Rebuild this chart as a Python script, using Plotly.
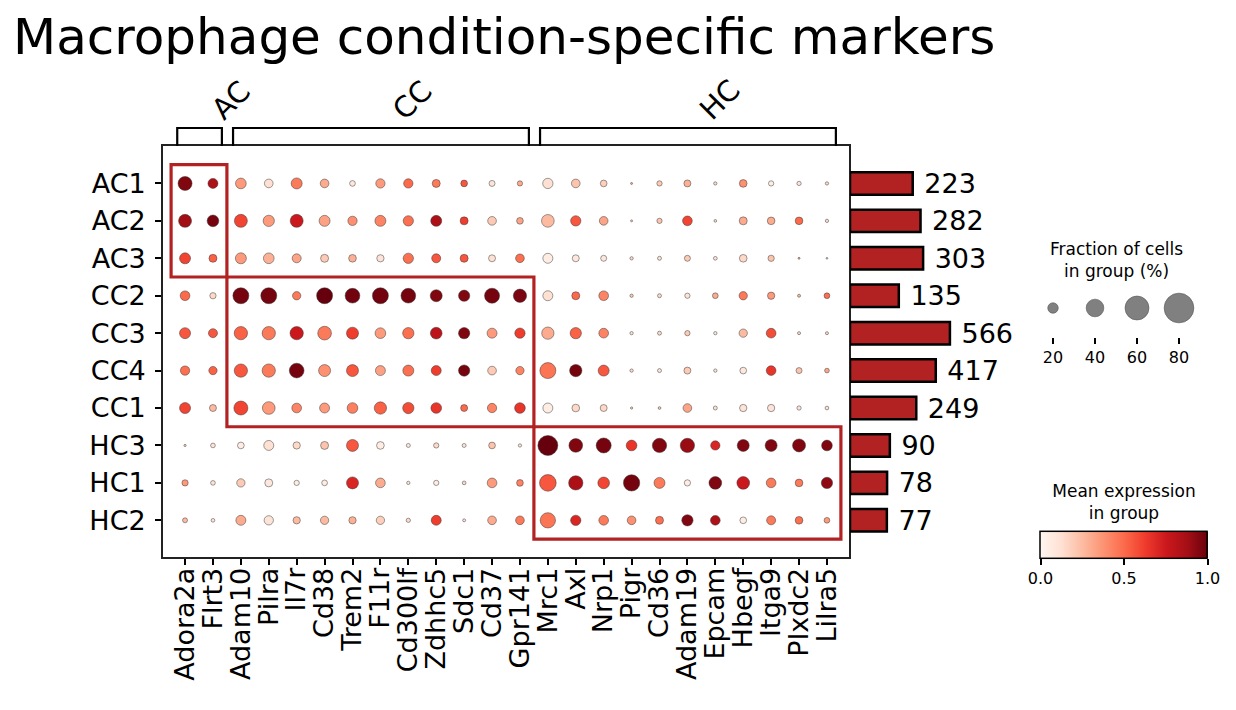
import numpy as np
import plotly.graph_objects as go

# dot plot data
genes = ["Adora2a", "Flrt3", "Adam10", "Pilra", "Il7r", "Cd38", "Trem2", "F11r",
         "Cd300lf", "Zdhhc5", "Sdc1", "Cd37", "Gpr141", "Mrc1", "Axl", "Nrp1",
         "Pigr", "Cd36", "Adam19", "Epcam", "Hbegf", "Itga9", "Plxdc2", "Lilra5"]
groups = ["AC1", "AC2", "AC3", "CC2", "CC3", "CC4", "CC1", "HC3", "HC1", "HC2"]
group_counts = [223, 282, 303, 135, 566, 417, 249, 90, 78, 77]

var_group_labels = ["AC", "CC", "HC"]
var_group_cols = [(0, 1), (2, 12), (13, 23)]
var_group_rows = [(0, 2), (3, 6), (7, 9)]

# mean expression (scaled 0..1)
expr = [
    [0.95, 0.85, 0.35, 0.12, 0.45, 0.30, 0.08, 0.35, 0.50, 0.45, 0.55, 0.10, 0.30,
     0.12, 0.22, 0.18, 0.30, 0.20, 0.28, 0.15, 0.38, 0.05, 0.10, 0.15],
    [0.88, 0.97, 0.60, 0.35, 0.75, 0.33, 0.38, 0.42, 0.48, 0.85, 0.62, 0.20, 0.32,
     0.25, 0.55, 0.32, 0.20, 0.22, 0.60, 0.15, 0.30, 0.30, 0.50, 0.15],
    [0.60, 0.52, 0.35, 0.28, 0.32, 0.20, 0.28, 0.10, 0.48, 0.55, 0.55, 0.12, 0.48,
     0.05, 0.08, 0.08, 0.15, 0.12, 0.20, 0.10, 0.15, 0.22, 0.30, 0.20],
    [0.50, 0.15, 0.97, 0.97, 0.45, 1.00, 0.98, 0.98, 0.97, 0.95, 0.95, 0.97, 0.96,
     0.12, 0.50, 0.42, 0.20, 0.15, 0.10, 0.30, 0.45, 0.35, 0.25, 0.48],
    [0.55, 0.55, 0.52, 0.45, 0.75, 0.45, 0.62, 0.35, 0.48, 0.80, 0.95, 0.35, 0.62,
     0.30, 0.52, 0.42, 0.12, 0.15, 0.20, 0.08, 0.25, 0.58, 0.15, 0.15],
    [0.48, 0.52, 0.55, 0.45, 0.97, 0.38, 0.55, 0.33, 0.48, 0.62, 0.97, 0.20, 0.42,
     0.47, 0.97, 0.55, 0.15, 0.10, 0.20, 0.10, 0.08, 0.65, 0.22, 0.32],
    [0.60, 0.25, 0.60, 0.35, 0.42, 0.35, 0.43, 0.52, 0.58, 0.65, 0.50, 0.42, 0.65,
     0.05, 0.15, 0.15, 0.20, 0.20, 0.32, 0.12, 0.10, 0.10, 0.10, 0.12],
    [0.20, 0.10, 0.05, 0.12, 0.15, 0.22, 0.55, 0.05, 0.08, 0.15, 0.10, 0.22, 0.10,
     1.00, 0.95, 0.97, 0.65, 0.95, 0.90, 0.70, 0.95, 0.95, 0.95, 0.95],
    [0.35, 0.10, 0.20, 0.08, 0.05, 0.05, 0.70, 0.30, 0.10, 0.05, 0.15, 0.35, 0.42,
     0.55, 0.85, 0.60, 0.97, 0.45, 0.05, 0.95, 0.75, 0.45, 0.45, 0.92],
    [0.25, 0.10, 0.30, 0.10, 0.25, 0.25, 0.28, 0.18, 0.15, 0.62, 0.10, 0.30, 0.45,
     0.47, 0.70, 0.45, 0.38, 0.48, 0.95, 0.85, 0.05, 0.45, 0.48, 0.35],
]

# fraction of cells expressing (%)
frac = [
    [29.4, 18.7, 20.5, 15.5, 21.3, 15.5, 8.9, 17.0, 17.0, 13.9, 11.0, 9.5, 8.0,
     19.5, 15.5, 11.0, 2.2, 8.0, 11.6, 4.3, 13.2, 8.0, 6.1, 4.3],
    [26.6, 23.1, 26.6, 22.0, 26.6, 21.3, 17.0, 21.3, 19.5, 21.3, 13.9, 15.5, 11.0,
     25.8, 19.5, 15.5, 2.2, 8.0, 18.0, 3.3, 13.9, 13.2, 13.2, 4.3],
    [21.3, 13.9, 21.3, 20.5, 16.3, 13.9, 13.2, 12.3, 19.5, 16.3, 13.9, 11.6, 15.5,
     18.7, 11.6, 9.5, 4.3, 5.5, 9.5, 5.0, 13.2, 10.1, 2.2, 1.8],
    [18.0, 10.1, 35.1, 35.1, 14.6, 35.1, 31.4, 35.1, 31.4, 23.9, 22.0, 32.3, 27.4,
     18.7, 13.9, 18.0, 4.3, 5.5, 8.0, 8.9, 14.6, 12.3, 3.8, 8.9],
    [21.3, 16.3, 27.4, 27.4, 27.4, 28.5, 23.9, 20.5, 22.0, 23.1, 22.0, 18.7, 19.5,
     24.7, 22.0, 18.0, 4.3, 5.5, 8.0, 4.3, 14.6, 18.0, 3.8, 3.8],
    [17.0, 14.6, 27.4, 27.4, 31.4, 23.9, 23.9, 18.7, 21.3, 18.7, 22.0, 15.5, 14.6,
     35.1, 24.7, 21.3, 4.3, 5.5, 11.6, 4.3, 11.0, 18.0, 9.5, 6.8],
    [21.3, 11.6, 29.4, 25.8, 18.0, 18.7, 20.5, 24.7, 22.0, 20.5, 11.6, 17.0, 20.5,
     18.7, 13.2, 11.6, 2.6, 3.3, 15.5, 5.5, 12.3, 12.3, 6.1, 5.0],
    [2.6, 6.8, 11.0, 18.7, 12.3, 13.9, 23.9, 13.2, 5.5, 8.0, 5.5, 11.0, 4.3,
     47.2, 28.5, 32.3, 20.5, 30.2, 30.2, 17.0, 23.9, 23.9, 26.6, 20.5],
    [10.1, 6.8, 14.6, 13.9, 8.0, 8.9, 23.9, 18.0, 4.3, 8.0, 5.0, 18.0, 11.0,
     37.1, 30.2, 23.1, 36.0, 21.3, 10.1, 25.8, 25.8, 18.0, 13.2, 22.0],
    [7.4, 5.0, 18.7, 17.0, 12.3, 14.6, 12.3, 14.6, 6.1, 18.7, 3.8, 15.5, 15.5,
     33.1, 19.5, 18.0, 15.5, 13.9, 22.0, 18.0, 11.0, 16.3, 13.2, 8.9],
]

size_legend_vals = [20, 40, 60, 80]

# the page puts the figure 8px in from the top-left corner
OFF = 8
W, H = 1236 - 2 * OFF, 710 - 2 * OFF
FONT = "DejaVu Sans"
reds = ["#fff5f0", "#fee0d2", "#fcbba1", "#fc9272", "#fb6a4a",
        "#ef3b2c", "#cb181d", "#a50f15", "#67000d"]
reds_scale = [[i / (len(reds) - 1), c] for i, c in enumerate(reds)]


def dot_size(f):
    return 1.11 * np.power(np.asarray(f, dtype=float), 0.75)


def px_x(px):
    return (px - OFF) / W


def px_y(py):
    return 1 - (py - OFF) / H


expr_a = np.array(expr)
frac_a = np.array(frac)
n_rows, n_cols = expr_a.shape
xx, yy = np.meshgrid(np.arange(n_cols), np.arange(n_rows))

fig = go.Figure()

# main dot plot
fig.add_trace(go.Scatter(
    x=xx.ravel(), y=yy.ravel(), mode="markers",
    marker=dict(
        size=dot_size(frac_a.ravel()), opacity=1,
        color=expr_a.ravel(), colorscale=reds_scale, cmin=0, cmax=1,
        line=dict(width=0.6, color="rgba(50,50,50,0.8)"),
        colorbar=dict(
            orientation="h", x=px_x(1124), xanchor="center",
            y=px_y(599), yanchor="bottom",
            lenmode="pixels", len=187, thickness=27,
            outlinewidth=1.5, outlinecolor="black",
            tickvals=[0, 0.5, 1], ticktext=["0.0", "0.5", "1.0"],
            ticks="outside", ticklen=6, tickwidth=1.5, tickcolor="black",
            tickfont=dict(size=16, color="black", family=FONT),
            title=dict(text="Mean expression<br>in group", side="top",
                       font=dict(size=17, color="black", family=FONT)),
        ),
    ),
    hoverinfo="skip", showlegend=False,
))

# group totals on the right, bar length on a square-root scale
fig.add_trace(go.Bar(
    x=np.sqrt(group_counts), y=np.arange(n_rows), orientation="h",
    xaxis="x2", yaxis="y", width=0.6,
    marker=dict(color="#b22222", line=dict(color="black", width=2.5)),
    text=[" " + str(c) for c in group_counts], textposition="outside",
    constraintext="none",
    textfont=dict(size=27, color="black", family=FONT),
    cliponaxis=False, showlegend=False, hoverinfo="skip",
))

# size legend
fig.add_trace(go.Scatter(
    x=size_legend_vals, y=[0.5] * len(size_legend_vals), mode="markers",
    xaxis="x3", yaxis="y3",
    marker=dict(size=dot_size(size_legend_vals), color="#808080", opacity=1,
                line=dict(width=0.6, color="#555555")),
    showlegend=False, hoverinfo="skip",
))

shapes = []
annotations = []

# highlight boxes around each condition block
for (c0, c1), (r0, r1) in zip(var_group_cols, var_group_rows):
    shapes.append(dict(type="rect", xref="x", yref="y",
                       x0=c0 - 0.5, x1=c1 + 0.5, y0=r0 - 0.5, y1=r1 + 0.5,
                       line=dict(color="#b22222", width=3.2)))

# brackets over the gene groups
y_top_axis = px_y(146)
y_bracket = px_y(128)
for lab, (c0, c1) in zip(var_group_labels, var_group_cols):
    a, b = c0 - 0.28, c1 + 0.32
    shapes.append(dict(type="path", xref="x", yref="paper",
                       path=f"M {a},{y_top_axis} L {a},{y_bracket} L {b},{y_bracket} L {b},{y_top_axis}",
                       line=dict(color="black", width=2.2)))
    annotations.append(dict(text=lab, x=(a + b) / 2 + 1.13, y=px_y(100),
                            xref="x", yref="paper", showarrow=False,
                            textangle=-45, xanchor="center", yanchor="middle",
                            font=dict(size=29, color="black", family=FONT)))

annotations.append(dict(text="Fraction of cells<br>in group (%)",
                        x=px_x(1116), y=px_y(260), xref="paper", yref="paper",
                        showarrow=False, xanchor="center", yanchor="middle",
                        font=dict(size=17, color="black", family=FONT)))

axis_common = dict(showgrid=False, zeroline=False)

fig.update_layout(
    width=W, height=H,
    margin=dict(l=0, r=0, t=0, b=0),
    paper_bgcolor="white", plot_bgcolor="white",
    font=dict(family=FONT, color="black"),
    title=dict(text="Macrophage condition-specific markers",
               x=px_x(13), xanchor="left", y=px_y(36), yanchor="middle",
               font=dict(size=50, color="black", family=FONT)),
    xaxis=dict(domain=[px_x(163), px_x(849)], range=[-0.79, n_cols - 1 + 0.79],
               tickvals=list(range(n_cols)), ticktext=genes, tickangle=-90,
               ticks="outside", ticklen=6, tickwidth=1.5, tickcolor="black",
               tickfont=dict(size=27, family=FONT), ticklabelstandoff=-8,
               showline=True, linecolor="#222222", linewidth=1.8, mirror=True,
               anchor="y", **axis_common),
    yaxis=dict(domain=[px_y(557), px_y(146)], range=[n_rows - 1 + 0.98, -1.0],
               tickvals=list(range(n_rows)), ticktext=groups,
               ticks="outside", ticklen=6, tickwidth=1.5, tickcolor="black",
               tickfont=dict(size=27, family=FONT), ticklabelstandoff=4,
               showline=True, linecolor="#222222", linewidth=1.8, mirror=True,
               anchor="x", **axis_common),
    xaxis2=dict(domain=[px_x(850), px_x(1050)], range=[0, 200 / 4.2],
                anchor="y", visible=False, **axis_common),
    xaxis3=dict(domain=[px_x(1030), px_x(1200)], range=[9.05, 90],
                tickvals=size_legend_vals, ticks="outside", ticklen=6,
                tickwidth=1.5, tickcolor="black", showline=False,
                tickfont=dict(size=16, family=FONT), anchor="y3",
                **axis_common),
    yaxis3=dict(domain=[px_y(337), px_y(279)], range=[0, 1],
                visible=False, anchor="x3", **axis_common),
    shapes=shapes, annotations=annotations,
    bargap=0.4,
)

fig.write_html("out.html")
